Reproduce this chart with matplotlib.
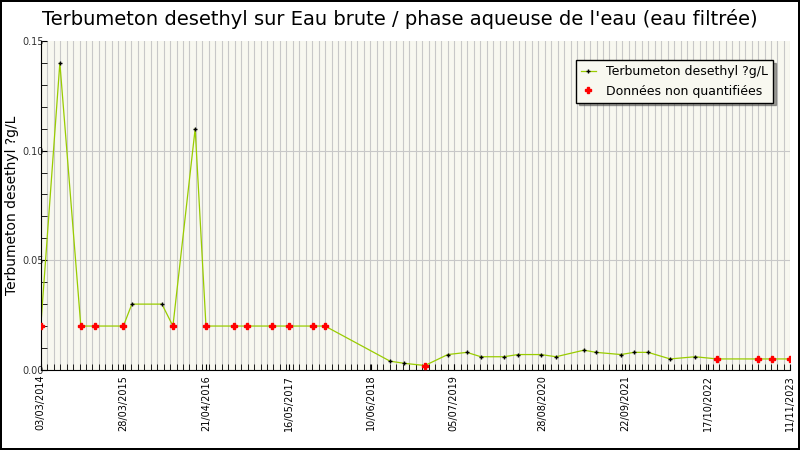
import matplotlib
matplotlib.use("Agg")
import matplotlib.pyplot as plt
import matplotlib.dates as mdates
import numpy as np
import datetime as dt

dates = ["2014-03-03","2014-06-01","2014-09-08","2014-11-13","2015-03-28","2015-05-07",
         "2015-09-26","2015-11-17","2016-03-01","2016-04-21","2016-08-31","2016-11-01",
         "2017-02-27","2017-05-16","2017-09-08","2017-11-04","2018-09-07","2018-11-13",
         "2019-02-19","2019-06-07","2019-09-05","2019-11-10","2020-02-27","2020-05-03",
         "2020-08-20","2020-10-30","2021-03-11","2021-05-07","2021-09-02","2021-11-02",
         "2022-01-08","2022-04-22","2022-08-18","2022-11-30","2023-06-13","2023-08-18",
         "2023-11-11"]
values = [0.02,0.14,0.02,0.02,0.02,0.03,0.03,0.02,0.11,0.02,0.02,0.02,0.02,0.02,0.02,0.02,
          0.004,0.003,0.002,0.007,0.008,0.006,0.006,0.007,0.007,0.006,0.009,0.008,0.007,
          0.008,0.008,0.005,0.006,0.005,0.005,0.005,0.005]
non_quantified = [1,0,1,1,1,0,0,1,0,1,1,1,1,1,1,1,0,0,1,0,0,0,0,0,0,0,0,0,0,0,0,0,0,1,1,1,1]
tick_labels = ["03/03/2014","28/03/2015","21/04/2016","16/05/2017","10/06/2018",
               "05/07/2019","28/08/2020","22/09/2021","17/10/2022","11/11/2023"]

x = [dt.datetime.strptime(d, "%Y-%m-%d") for d in dates]
y = np.array(values)
nq = np.array(non_quantified, bool)
xt = [dt.datetime.strptime(t, "%d/%m/%Y") for t in tick_labels]

fig = plt.figure(figsize=(8, 4.5), dpi=100)
fig.patch.set_facecolor("white")
fig.patch.set_edgecolor("black"); fig.patch.set_linewidth(1.5)
ax = fig.add_axes([0.051, 0.178, 0.937, 0.731])
ax.set_facecolor("#f8f8f0")
xn = mdates.date2num(x)
x0, x1 = mdates.date2num(xt[0]), mdates.date2num(xt[-1])
ax.set_xlim(x0, x1)
ax.set_ylim(0, 0.15)
for g in np.linspace(x0, x1, 117):
    ax.axvline(g, color="#c8c8c8", lw=0.8, zorder=0)
for g in [0.05, 0.10]:
    ax.axhline(g, color="#c8c8c8", lw=0.8, zorder=0)

ax.plot(xn, y, color="#99cc00", lw=0.9, marker="+", ms=3, mec="black", mew=1,
        label="Terbumeton desethyl ?g/L", zorder=2)
ax.plot(xn[nq], y[nq], ls="none", marker="P", ms=4.5, color="red",
        label="Données non quantifiées", zorder=3)

ax.set_xticks(mdates.date2num(xt))
ax.set_xticklabels(tick_labels, rotation=90, fontsize=7)
ax.set_xticks(np.linspace(x0, x1, 117), minor=True)
ax.set_yticks([0, 0.05, 0.10, 0.15])
ax.set_yticklabels(["0.00", "0.05", "0.10", "0.15"], fontsize=7, color="#333333")
ax.set_yticks(np.arange(0, 0.151, 0.01), minor=True)
ax.tick_params(axis="both", which="both", direction="in", length=4)
ax.tick_params(axis="y", which="major", pad=-2)
for s in ["top", "right"]:
    ax.spines[s].set_visible(False)
ax.set_ylabel("Terbumeton desethyl ?g/L", fontsize=10, labelpad=2)
fig.suptitle("Terbumeton desethyl sur Eau brute / phase aqueuse de l'eau (eau filtrée)",
             fontsize=14, y=0.98)
leg = ax.legend(loc="upper right", bbox_to_anchor=(0.985, 0.96), fontsize=9,
                fancybox=False, shadow=True, framealpha=1, edgecolor="black",
                handlelength=1.2, markerfirst=True)
leg.get_frame().set_facecolor("#f8f8f0")
fig.savefig("out.png", dpi=100)
